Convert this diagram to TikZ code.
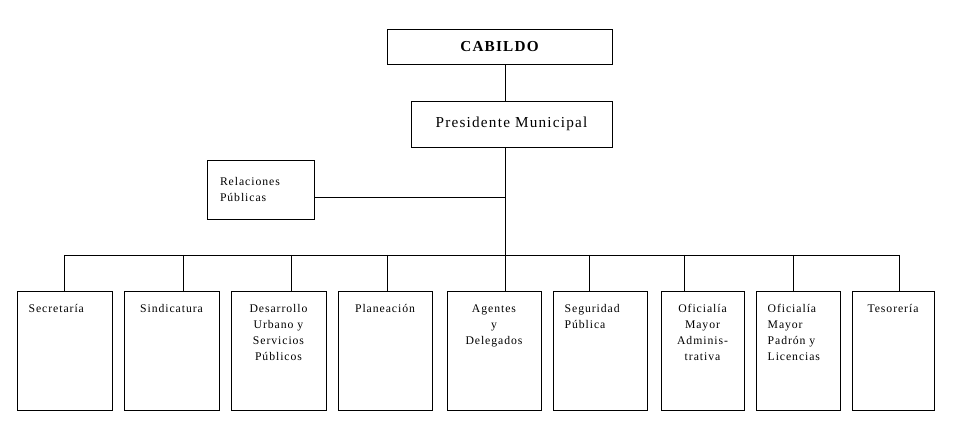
\documentclass[tikz,border=0pt]{standalone}
\usepackage{fontspec}
\setmainfont{Liberation Serif}[LetterSpace=8]
\usepackage{tikz}

\begin{document}
\begin{tikzpicture}[
  box/.style={draw, line width=0.7pt, align=center, inner sep=0pt},
  unit/.style={draw, line width=0.7pt, inner xsep=0.35cm, inner ysep=0.4cm, text height=0.26cm, text depth=2.51cm, font=\fontsize{10}{13.6}\selectfont},
  conn/.style={line width=0.7pt}
]
\useasboundingbox (0,0) rectangle (28.77,-13.17);
% top of the chart
\node[box, minimum width=6.75cm, minimum height=1.05cm, font=\fontsize{13}{15}\selectfont\bfseries] (cabildo) at (14.985,-1.395) {CABILDO};
\node[box, minimum width=6.03cm, minimum height=1.38cm, font=\fontsize{13}{15}\selectfont] (pres) at (15.345,-3.72) {Presidente Municipal};
\node[draw, line width=0.7pt, text width=2.43cm, align=left, inner xsep=0.39cm, minimum height=1.77cm, font=\fontsize{10}{13.6}\selectfont] (rel) at (7.815,-5.685) {Relaciones\\Públicas};
% departments
\node[unit, text width=2.15cm, align=left]   (sec) at (1.935,-10.515) {Secretaría};
\node[unit, text width=2.15cm, align=center] (sin) at (5.145,-10.515) {Sindicatura};
\node[unit, text width=2.15cm, align=center] (des) at (8.355,-10.515) {Desarrollo\\Urbano y\\Servicios\\Públicos};
\node[unit, text width=2.12cm, align=center] (pla) at (11.55,-10.515) {Planeación};
\node[unit, text width=2.12cm, align=center] (age) at (14.82,-10.515) {Agentes\\y\\Delegados};
\node[unit, text width=2.12cm, align=left]   (seg) at (18.0,-10.515) {Seguridad\\Pública};
\node[unit, text width=1.79cm, align=center] (ofa) at (21.075,-10.515) {Oficialía\\Mayor\\Adminis-\\trativa};
\node[unit, text width=1.82cm, align=left]   (ofp) at (23.94,-10.515) {Oficialía\\Mayor\\Padrón y\\Licencias};
\node[unit, text width=1.76cm, align=center] (tes) at (26.79,-10.515) {Tesorería};
% junctions
\coordinate (relj) at (15.15,-5.91);
\coordinate (tsec) at (1.92,-7.65);
\coordinate (tsin) at (5.49,-7.65);
\coordinate (tdes) at (8.73,-7.65);
\coordinate (tpla) at (11.61,-7.65);
\coordinate (tage) at (15.15,-7.65);
\coordinate (tseg) at (17.67,-7.65);
\coordinate (tofa) at (20.52,-7.65);
\coordinate (tofp) at (23.79,-7.65);
\coordinate (ttes) at (26.97,-7.65);
\draw[conn] (cabildo.south -| tage) -- (pres.north -| tage);
\draw[conn] (pres.south -| tage) -- (tage);
\draw[conn] (relj -| rel.east) -- (relj);
\draw[conn] (tsec) -- (ttes);
\draw[conn] (tsec) -- (tsec |- sec.north);
\draw[conn] (tsin) -- (tsin |- sin.north);
\draw[conn] (tdes) -- (tdes |- des.north);
\draw[conn] (tpla) -- (tpla |- pla.north);
\draw[conn] (tage) -- (tage |- age.north);
\draw[conn] (tseg) -- (tseg |- seg.north);
\draw[conn] (tofa) -- (tofa |- ofa.north);
\draw[conn] (tofp) -- (tofp |- ofp.north);
\draw[conn] (ttes) -- (ttes |- tes.north);
\end{tikzpicture}
\end{document}
